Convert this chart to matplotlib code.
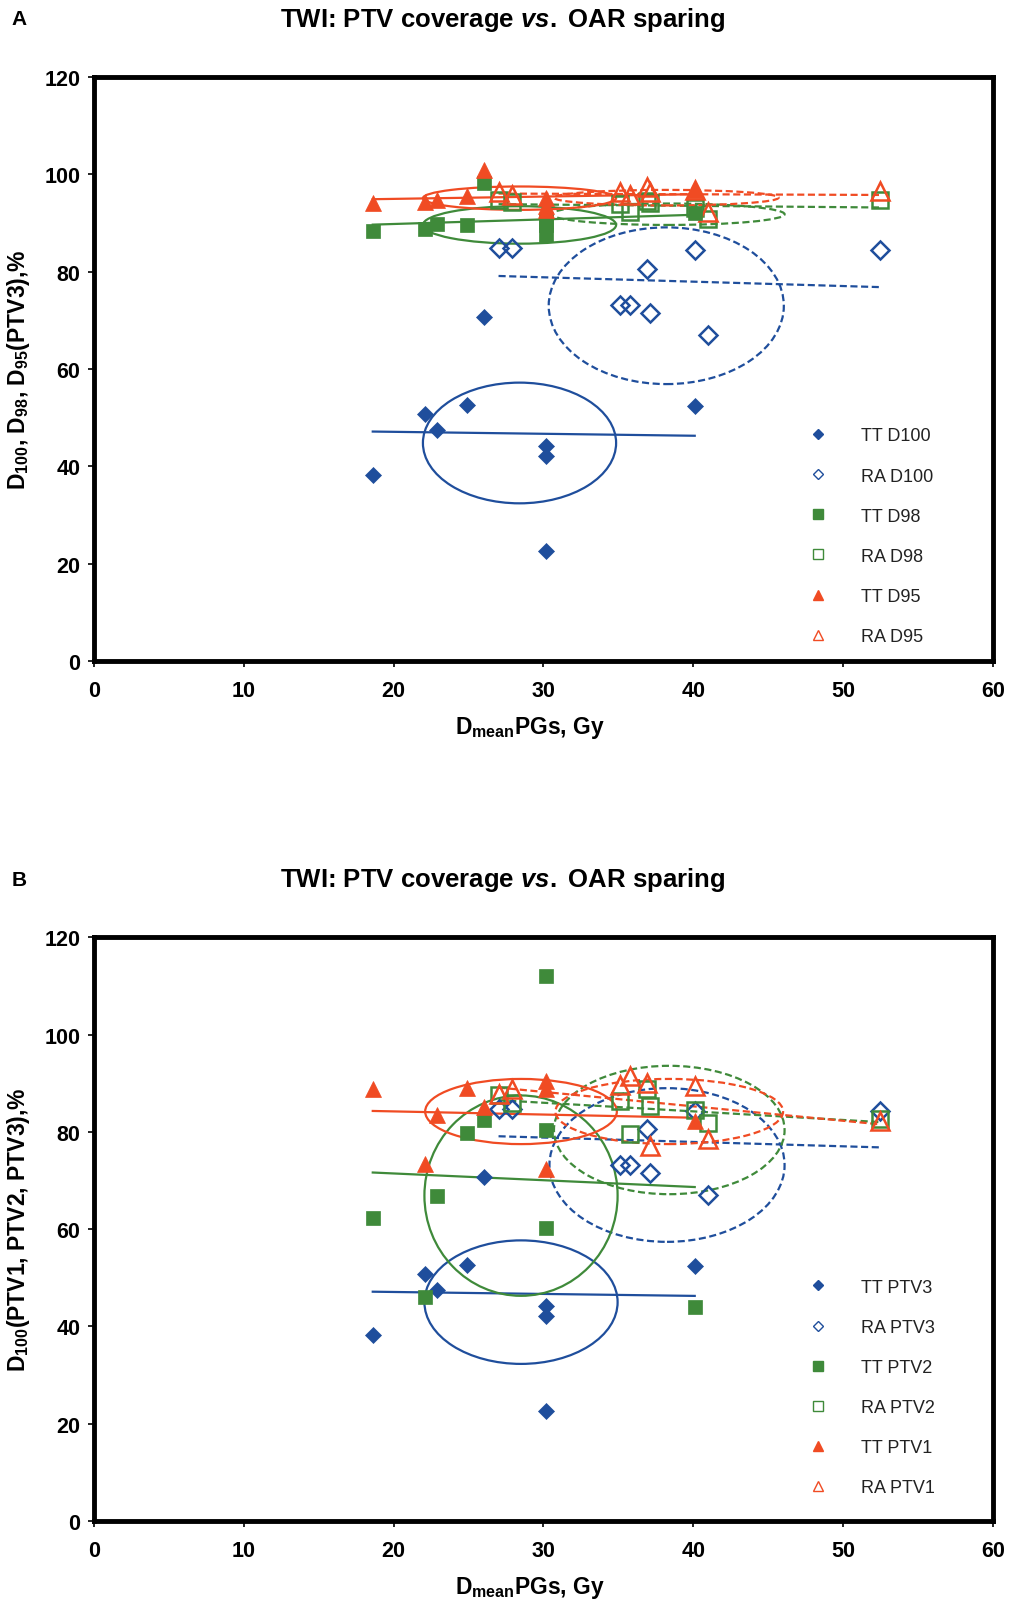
import matplotlib
matplotlib.use("Agg")
import matplotlib.pyplot as plt
from matplotlib.patches import Ellipse
from matplotlib.lines import Line2D
import numpy as np

plt.rcParams["font.family"] = ["Liberation Sans", "DejaVu Sans"]
plt.rcParams["font.weight"] = "bold"
plt.rcParams["axes.labelweight"] = "bold"
plt.rcParams["mathtext.fontset"] = "custom"
plt.rcParams["mathtext.rm"] = "Liberation Sans:bold"
plt.rcParams["mathtext.bf"] = "Liberation Sans:bold"
plt.rcParams["mathtext.it"] = "Liberation Sans:bold:italic"
plt.rcParams["mathtext.default"] = "rm"

BLUE = "#1f4e9c"
GREEN = "#3f8a3a"
RED = "#f04b23"

# mean parotid dose per patient (Gy), TomoTherapy and RapidArc plans
x_tt = [18.6, 22.1, 22.9, 24.9, 26.0, 30.2, 30.2, 30.2, 40.1]
x_ra = [27.0, 27.9, 35.1, 35.8, 36.9, 37.1, 40.1, 41.0, 52.5]

# panel A: D100 / D98 / D95 of PTV3 (%)
tt_d100 = [38.3, 50.7, 47.5, 52.6, 70.7, 44.2, 42.1, 22.6, 52.5]
ra_d100 = [84.8, 84.8, 73.1, 73.2, 80.6, 71.6, 84.4, 67.0, 84.4]
tt_d98 = [88.4, 88.8, 89.8, 89.5, 98.3, 87.5, 89.5, 90.5, 92.0]
ra_d98 = [94.7, 94.3, 94.0, 92.2, 94.5, 94.1, 93.0, 90.9, 94.7]
tt_d95 = [94.2, 94.3, 94.8, 95.5, 100.8, 95.2, 93.5, 92.6, 96.8]
ra_d95 = [96.3, 95.8, 96.3, 95.8, 97.3, 96.3, 96.8, 92.2, 96.6]

# panel B: D100 of PTV1 / PTV2 / PTV3 (%)
tt_ptv3 = tt_d100
ra_ptv3 = ra_d100
tt_ptv2 = [62.4, 46.0, 66.8, 79.7, 82.5, 80.5, 60.2, 112.1, 43.9]
ra_ptv2 = [87.5, 86.0, 86.4, 79.6, 88.8, 85.4, 84.6, 81.8, 82.7]
tt_ptv1 = [88.8, 73.4, 83.5, 89.0, 85.1, 90.5, 88.8, 72.4, 82.3]
ra_ptv1 = [87.8, 88.8, 89.6, 91.5, 90.1, 77.2, 89.4, 78.6, 82.3]

# hand-drawn spread ellipses (centre x, centre y, half width, half height)
ell_a_cx = [28.4, 38.2, 28.4, 38.3, 28.4, 38.2]
ell_a_cy = [44.8, 73.0, 89.6, 91.8, 95.1, 95.2]
ell_a_rx = [6.45, 7.85, 6.45, 7.8, 6.45, 7.5]
ell_a_ry = [12.4, 16.1, 3.85, 2.2, 2.4, 1.6]

ell_b_cx = [28.5, 38.25, 28.5, 38.4, 28.5, 38.4]
ell_b_cy = [45.0, 73.2, 66.9, 80.4, 84.2, 84.2]
ell_b_rx = [6.45, 7.85, 6.45, 7.7, 6.4, 7.6]
ell_b_ry = [12.7, 15.8, 20.6, 13.2, 6.7, 6.7]

labels_a = ["TT D100", "RA D100", "TT D98", "RA D98", "TT D95", "RA D95"]
labels_b = ["TT PTV3", "RA PTV3", "TT PTV2", "RA PTV2", "TT PTV1", "RA PTV1"]

colors = [BLUE, BLUE, GREEN, GREEN, RED, RED]
markers = ["D", "D", "s", "s", "^", "^"]
msize = {"D": 7.8, "s": 9.5, "^": 12}
lsize = {"D": 5.5, "s": 6.5, "^": 7.5}
DASH = (0, (3.2, 1.6))


def draw_panel(ax, ys, ell, labels, leg_top):
    cx, cy, rx, ry = ell
    for i, y in enumerate(ys):
        x = x_tt if i % 2 == 0 else x_ra
        c = colors[i]
        ls = "-" if i % 2 == 0 else DASH
        # linear trend over the group's dose range
        k, b = np.polyfit(x, y, 1)
        xx = np.array([min(x), max(x)])
        ax.plot(xx, k * xx + b, color=c, lw=1.6, ls=ls, zorder=2)
        ax.add_patch(Ellipse((cx[i], cy[i]), 2 * rx[i], 2 * ry[i], fill=False,
                             ec=c, lw=1.6, ls=ls, zorder=2))
    for i, y in enumerate(ys):
        x = x_tt if i % 2 == 0 else x_ra
        m = markers[i]
        if i % 2 == 0:
            ax.plot(x, y, ls="none", marker=m, ms=msize[m], mfc=colors[i],
                    mec=colors[i], mew=0.5, zorder=4)
        else:
            ax.plot(x, y, ls="none", marker=m, ms=msize[m] + 1.5, mfc="none",
                    mec=colors[i], mew=1.8, zorder=3)

    handles = []
    for i in range(6):
        m = markers[i]
        filled = i % 2 == 0
        handles.append(Line2D([], [], ls="none", marker=m, ms=lsize[m],
                              mfc=colors[i] if filled else "none",
                              mec=colors[i], mew=1.0))
    leg = ax.legend(handles, labels, loc="upper left", bbox_to_anchor=(0.795, leg_top),
                    frameon=False, fontsize=13, labelspacing=1.28,
                    handlelength=1.0, handletextpad=1.9, borderaxespad=0,
                    borderpad=0)
    for t in leg.get_texts():
        t.set_fontweight("normal")
        t.set_color("#222222")

    ax.set_xlim(0, 60)
    ax.set_ylim(0, 120)
    ax.set_xticks(np.arange(0, 61, 10))
    ax.set_yticks(np.arange(0, 121, 20))
    for s in ax.spines.values():
        s.set_linewidth(3.5)
    ax.tick_params(direction="out", length=4, width=1.2, labelsize=15.5)
    ax.tick_params(axis="x", pad=10)
    ax.tick_params(axis="y", pad=6)
    for lbl in ax.get_xticklabels() + ax.get_yticklabels():
        lbl.set_fontweight("bold")
    ax.set_xlabel(r"D$_{mean}$PGs, Gy", fontsize=16.5, fontweight="bold",
                  labelpad=9, x=0.485)


fig = plt.figure(figsize=(10.13, 16.08), dpi=100)
ax_a = fig.add_axes([0.093, 0.5883, 0.887, 0.3632])
ax_b = fig.add_axes([0.093, 0.0535, 0.887, 0.3629])

draw_panel(ax_a, [tt_d100, ra_d100, tt_d98, ra_d98, tt_d95, ra_d95],
           (ell_a_cx, ell_a_cy, ell_a_rx, ell_a_ry), labels_a, 0.40)
draw_panel(ax_b, [tt_ptv3, ra_ptv3, tt_ptv2, ra_ptv2, tt_ptv1, ra_ptv1],
           (ell_b_cx, ell_b_cy, ell_b_rx, ell_b_ry), labels_b, 0.415)

ax_a.set_ylabel(r"D$_{100}$, D$_{98}$, D$_{95}$(PTV3),%", fontsize=16.5,
                fontweight="bold", labelpad=9)
ax_b.set_ylabel(r"D$_{100}$(PTV1, PTV2, PTV3),%", fontsize=16.5,
                fontweight="bold", labelpad=9)

title = r"TWI: PTV coverage $\mathit{vs.}$ OAR sparing"
fig.text(0.019, 0.9876, "A", fontsize=15, fontweight="bold", ha="center", va="center")
fig.text(0.496, 0.9876, title, fontsize=18.5, fontweight="bold", ha="center", va="center")
fig.text(0.019, 0.4527, "B", fontsize=15, fontweight="bold", ha="center", va="center")
fig.text(0.496, 0.4527, title, fontsize=18.5, fontweight="bold", ha="center", va="center")

fig.savefig("out.png", dpi=100)
